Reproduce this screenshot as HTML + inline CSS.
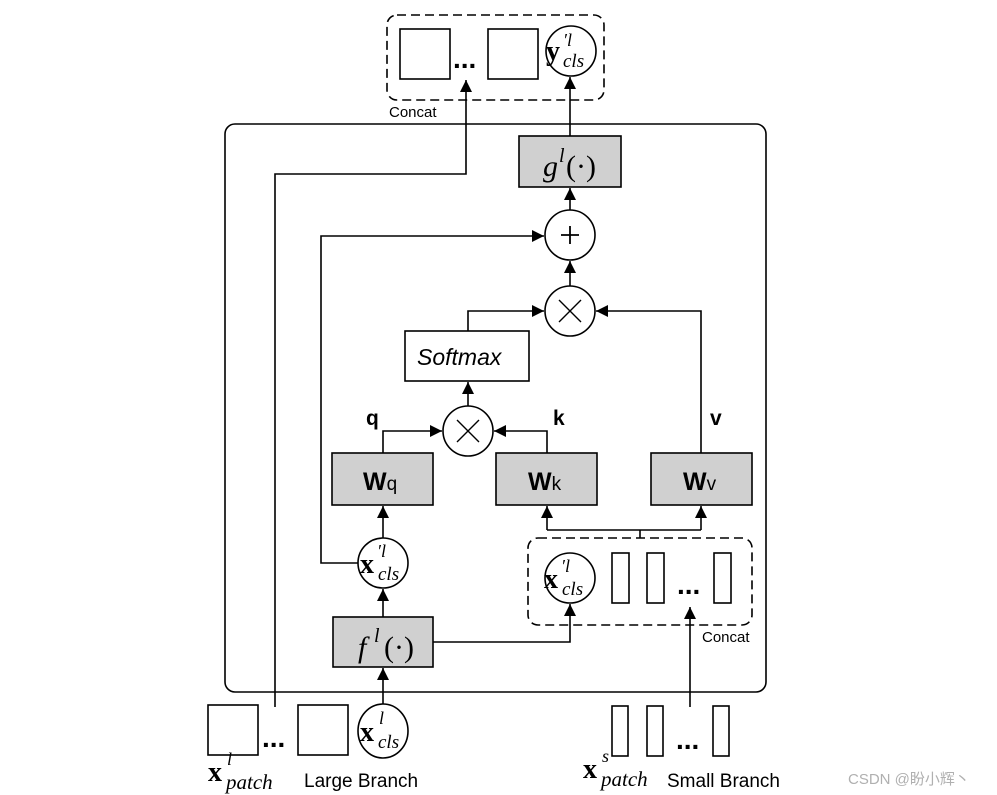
<!DOCTYPE html>
<html><head><meta charset="utf-8"><style>
html,body{margin:0;padding:0;background:#fff;}
svg{display:block;}
.m{font-family:"Liberation Serif",serif;}
.s{font-family:"Liberation Sans",sans-serif;}
</style></head><body>
<svg width="997" height="795" viewBox="0 0 997 795" xmlns="http://www.w3.org/2000/svg">
<defs>
<marker id="b" viewBox="0 0 10 10" markerWidth="14" markerHeight="12" refX="10" refY="5" orient="auto" markerUnits="userSpaceOnUse"><path d="M0,0 L10,5 L0,10 z" fill="#000"/></marker></defs>
<g fill="none" stroke="#000" stroke-width="1.6">
<rect x="387" y="15" width="217" height="85" rx="10" stroke-dasharray="9,5"/>
<rect x="400" y="29" width="50" height="50"/>
<rect x="488" y="29" width="50" height="50"/>
<circle cx="571" cy="51" r="25"/>
<rect x="225" y="124" width="541" height="568" rx="10"/>
<rect x="519" y="136" width="102" height="51" fill="#d0d0d0"/>
<circle cx="570" cy="235" r="25"/>
<circle cx="570" cy="311" r="25"/>
<rect x="405" y="331" width="124" height="50" fill="#fff"/>
<circle cx="468" cy="431" r="25"/>
<rect x="332" y="453" width="101" height="52" fill="#d0d0d0"/>
<rect x="496" y="453" width="101" height="52" fill="#d0d0d0"/>
<rect x="651" y="453" width="101" height="52" fill="#d0d0d0"/>
<circle cx="383" cy="563" r="25"/>
<rect x="333" y="617" width="100" height="50" fill="#d0d0d0"/>
<rect x="528" y="538" width="224" height="87" rx="10" stroke-dasharray="9,5"/>
<circle cx="570" cy="578" r="25"/>
<rect x="612" y="553" width="17" height="50"/>
<rect x="647" y="553" width="17" height="50"/>
<rect x="714" y="553" width="17" height="50"/>
<rect x="208" y="705" width="50" height="50"/>
<rect x="298" y="705" width="50" height="50"/>
<ellipse cx="383" cy="731" rx="25" ry="27"/>
<rect x="612" y="706" width="16" height="50"/>
<rect x="647" y="706" width="16" height="50"/>
<rect x="713" y="706" width="16" height="50"/>
<path d="M275,707 V174 H466 V80" marker-end="url(#b)"/>
<path d="M570,136 V77" marker-end="url(#b)"/>
<path d="M570,210 V188" marker-end="url(#b)"/>
<path d="M570,286 V261" marker-end="url(#b)"/>
<path d="M358,563 H321 V236 H544" marker-end="url(#b)"/>
<path d="M468,331 V311 H544" marker-end="url(#b)"/>
<path d="M701,453 V311 H596" marker-end="url(#b)"/>
<path d="M468,406 V382" marker-end="url(#b)"/>
<path d="M383,453 V431 H442" marker-end="url(#b)"/>
<path d="M547,453 V431 H494" marker-end="url(#b)"/>
<path d="M383,538 V506" marker-end="url(#b)"/>
<path d="M383,617 V589" marker-end="url(#b)"/>
<path d="M383,704 V668" marker-end="url(#b)"/>
<path d="M433,642 H570 V604" marker-end="url(#b)"/>
<path d="M640,538 V530"/>
<path d="M547,530 H701"/>
<path d="M547,530 V506" marker-end="url(#b)"/>
<path d="M701,530 V506" marker-end="url(#b)"/>
<path d="M690,707 V607" marker-end="url(#b)"/>
<path d="M559,300 L581,322 M581,300 L559,322" stroke-width="1.4"/>
<path d="M457,420 L479,442 M479,420 L457,442" stroke-width="1.4"/>
<path d="M561,235 H579 M570,226 V244" stroke-width="1.8"/>
</g>
<g fill="#000">
<text x="453" y="68" class="s" font-size="28" font-weight="bold">...</text>
<text x="677" y="594" class="s" font-size="28" font-weight="bold">...</text>
<text x="262" y="747" class="s" font-size="28" font-weight="bold">...</text>
<text x="676" y="749" class="s" font-size="28" font-weight="bold">...</text>
<text x="389" y="117" class="s" font-size="15">Concat</text>
<text x="702" y="642" class="s" font-size="15">Concat</text>
<text x="543" y="176" class="m" font-size="30" font-style="italic">g</text><text x="559" y="162" class="m" font-size="20" font-style="italic">l</text><text x="566" y="176" class="m" font-size="30">(·)</text>
<text x="358" y="657" class="m" font-size="30" font-style="italic">f</text><text x="374" y="642" class="m" font-size="20" font-style="italic">l</text><text x="384" y="657" class="m" font-size="30">(·)</text>
<text x="417" y="365" class="s" font-size="23" font-style="italic">Softmax</text>
<text x="366" y="425" class="s" font-size="21" font-weight="bold">q</text>
<text x="553" y="425" class="s" font-size="21" font-weight="bold">k</text>
<text x="710" y="425" class="s" font-size="21" font-weight="bold">v</text>
<text x="363" y="490" class="s" font-size="25" font-weight="bold">W<tspan font-weight="normal" font-size="19">q</tspan></text>
<text x="528" y="490" class="s" font-size="25" font-weight="bold">W<tspan font-weight="normal" font-size="19">k</tspan></text>
<text x="683" y="490" class="s" font-size="25" font-weight="bold">W<tspan font-weight="normal" font-size="19">v</tspan></text>
<text x="546" y="60" class="m" font-size="28" font-weight="bold">y</text><text x="563" y="46" class="m" font-size="18" font-style="italic">′l</text><text x="563" y="67" class="m" font-size="19" font-style="italic">cls</text>
<text x="360" y="573" class="m" font-size="28" font-weight="bold">x</text><text x="377" y="557" class="m" font-size="18" font-style="italic">′l</text><text x="378" y="580" class="m" font-size="19" font-style="italic">cls</text>
<text x="544" y="588" class="m" font-size="28" font-weight="bold">x</text><text x="561" y="572" class="m" font-size="18" font-style="italic">′l</text><text x="562" y="595" class="m" font-size="19" font-style="italic">cls</text>
<text x="360" y="741" class="m" font-size="28" font-weight="bold">x</text><text x="379" y="724" class="m" font-size="18" font-style="italic">l</text><text x="378" y="748" class="m" font-size="19" font-style="italic">cls</text>
<text x="208" y="781" class="m" font-size="28" font-weight="bold">x</text><text x="227" y="765" class="m" font-size="18" font-style="italic">l</text><text x="226" y="789" class="m" font-size="21" font-style="italic">patch</text>
<text x="583" y="778" class="m" font-size="28" font-weight="bold">x</text><text x="602" y="762" class="m" font-size="18" font-style="italic">s</text><text x="601" y="786" class="m" font-size="21" font-style="italic">patch</text>
<text x="304" y="787" class="s" font-size="19">Large Branch</text>
<text x="667" y="787" class="s" font-size="19">Small Branch</text>
<text x="848" y="784" class="s" font-size="15" fill="#b0b0b0">CSDN @盼小辉丶</text>
</g>
</svg>
</body></html>
